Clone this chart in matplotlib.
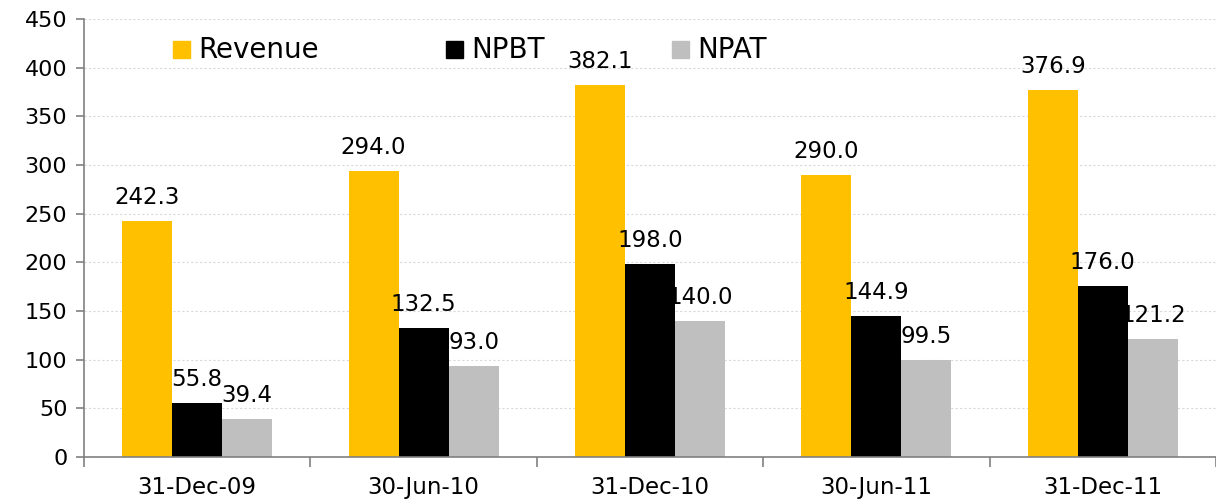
import matplotlib.pyplot as plt
import matplotlib.patches as mpatches
import numpy as np

periods = ["31-Dec-09", "30-Jun-10", "31-Dec-10", "30-Jun-11", "31-Dec-11"]
revenue = [242.3, 294.0, 382.1, 290.0, 376.9]
npbt = [55.8, 132.5, 198.0, 144.9, 176.0]
npat = [39.4, 93.0, 140.0, 99.5, 121.2]

series = [("Revenue", revenue, "#FFC000"),
          ("NPBT", npbt, "#000000"),
          ("NPAT", npat, "#BFBFBF")]

plt.rcParams["font.family"] = ["DejaVu Sans"]

W, H = 1216, 501
fig = plt.figure(figsize=(W / 100, H / 100), dpi=100)
ax = fig.add_axes([84 / W, 1 - 457 / H, 1 - 84 / W, (457 - 19) / H])

x = np.arange(len(periods))
w = 0.221
for i, (name, vals, col) in enumerate(series):
    xs = x + (i - 1) * w
    ax.bar(xs, vals, width=w, color=col, zorder=2)
    for xi, v in zip(xs, vals):
        ax.annotate(f"{v:.1f}", (xi, v), xytext=(0, 17), textcoords="offset pixels",
                    ha="center", va="baseline", fontsize=16.5, color="#000000", zorder=3)

ax.set_xlim(-0.5, len(periods) - 0.5)
ax.set_ylim(0, 450)
ax.set_yticks(np.arange(0, 451, 50))
ax.yaxis.grid(True, color="#D9D9D9", linestyle=(0, (2, 2)), linewidth=0.8, zorder=0)
ax.set_axisbelow(True)

ax.set_xticks(x)
ax.set_xticklabels(periods, fontsize=16.5)
ax.set_xticks(np.arange(-0.5, len(periods), 1), minor=True)
ax.tick_params(axis="x", which="major", length=0, pad=14)
ax.tick_params(axis="x", which="minor", length=7, color="#808080", width=1.2)
ax.tick_params(axis="y", labelsize=16, length=6, color="#808080", width=1.2, pad=6)

for s in ("top", "right"):
    ax.spines[s].set_visible(False)
for s in ("left", "bottom"):
    ax.spines[s].set_color("#808080")
    ax.spines[s].set_linewidth(1.2)

# legend keys laid out by hand along the top of the plot area
key_left = [173, 446, 672]
for (name, _, col), kx in zip(series, key_left):
    fig.patches.append(mpatches.Rectangle((kx / W, 1 - 58 / H), 17 / W, 17 / H,
                                          transform=fig.transFigure, color=col))
    fig.text((kx + 25) / W, 1 - 49.5 / H, name, fontsize=20, va="center", ha="left")

fig.savefig("out.png", dpi=100)
